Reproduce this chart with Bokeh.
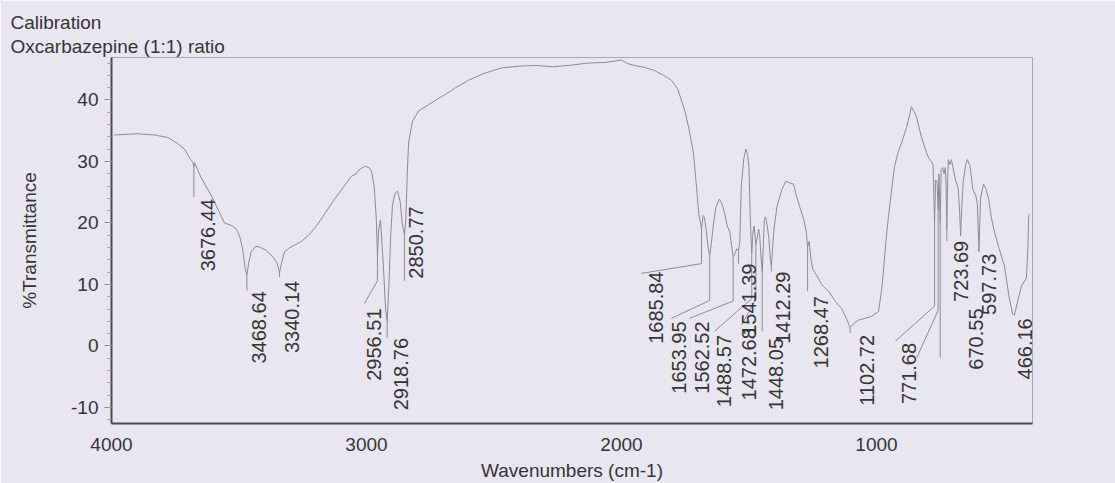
from bokeh.plotting import figure
from bokeh.models import Range1d, FixedTicker, Title, ColumnDataSource
from bokeh.core.properties import value
from bokeh.embed import file_html
from bokeh.resources import INLINE
import math

# ---- spectrum (wavenumber cm-1, %T) ----
wavenumber = [3990, 3900, 3830, 3780, 3740, 3714, 3690, 3680, 3677, 3674, 3650, 3608, 3580, 3557,
              3530, 3510, 3495, 3485, 3475, 3469, 3462, 3452, 3435, 3420, 3395, 3370, 3352, 3341,
              3333, 3322, 3300, 3255, 3220, 3188, 3125, 3059, 3040, 3030, 3008, 2990, 2980, 2970,
              2962, 2957, 2952, 2945, 2935, 2925, 2919, 2912, 2905, 2898, 2888, 2878, 2868, 2860,
              2851, 2846, 2840, 2835, 2820, 2796, 2757, 2720, 2694, 2650, 2600, 2540, 2471, 2400,
              2341, 2270, 2208, 2129, 2060, 2000, 1975, 1949, 1910, 1871, 1835, 1804, 1780, 1765,
              1750, 1737, 1718, 1706, 1697, 1690, 1686, 1680, 1675, 1668, 1660, 1654, 1648, 1640,
              1630, 1616, 1605, 1597, 1585, 1575, 1568, 1562, 1555, 1548, 1541, 1536, 1530, 1520,
              1512, 1505, 1500, 1495, 1489, 1484, 1480, 1476, 1473, 1468, 1462, 1458, 1452, 1448,
              1444, 1440, 1435, 1428, 1422, 1416, 1412, 1408, 1402, 1390, 1370, 1355, 1345, 1325,
              1314, 1300, 1285, 1275, 1270, 1264, 1258, 1250, 1235, 1215, 1188, 1160, 1137, 1118,
              1103, 1090, 1071, 1045, 1020, 992, 980, 973, 963, 953, 940, 929, 915, 902, 882, 870,
              863, 855, 843, 824, 804, 795, 784, 778, 775, 772, 768, 762, 758, 755, 750, 746, 740,
              735, 730, 727, 724, 721, 718, 712, 706, 700, 690, 679, 674, 670, 666, 660, 650, 643,
              633, 622, 610, 604, 598, 592, 580, 570, 560, 550, 537, 520, 498, 480, 466, 459, 445,
              431, 412, 406, 403, 400]
transmittance = [34.3, 34.5, 34.3, 33.9, 32.9, 32.0, 30.3, 29.8, 29.0, 29.8, 27.5, 24.4, 22.0, 20.0,
                 19.6, 19.0, 17.5, 15.5, 12.5, 11.5, 13.5, 15.3, 16.2, 16.1, 15.6, 14.6, 13.6, 12.0,
                 13.5, 15.3, 16.0, 17.0, 18.3, 20.0, 23.9, 27.6, 28.0, 28.6, 29.2, 29.0, 28.4, 26.0,
                 21.0, 14.5, 19.0, 20.5, 14.0, 6.0, 4.0, 10.0, 18.0, 23.0, 24.8, 25.2, 23.5, 20.0,
                 18.0, 20.5, 28.0, 33.0, 36.5, 38.2, 39.2, 40.2, 40.8, 42.0, 43.2, 44.3, 45.2, 45.5,
                 45.6, 45.4, 45.6, 46.0, 46.1, 46.5, 45.9, 45.6, 45.3, 44.8, 44.0, 43.2, 41.8, 40.0,
                 38.0, 35.6, 31.5, 26.0, 21.5, 20.0, 19.0, 21.2, 21.0, 19.0, 16.0, 14.7, 16.5, 19.5,
                 22.5, 23.9, 23.0, 21.8, 19.5, 18.5, 16.3, 14.5, 15.0, 15.8, 15.5, 17.0, 26.0, 30.5,
                 32.0, 31.0, 29.0, 21.0, 15.0, 18.5, 19.5, 18.0, 16.5, 17.5, 19.0, 18.0, 14.0, 12.0,
                 16.0, 20.5, 21.0, 19.5, 17.5, 14.0, 13.0, 15.5, 19.0, 22.7, 25.5, 26.8, 26.6, 26.3,
                 24.4, 22.5, 20.6, 18.5, 16.0, 17.0, 14.5, 12.5, 11.5, 10.0, 8.9, 7.2, 6.1, 4.5,
                 3.0, 3.6, 4.2, 4.5, 4.8, 5.6, 9.0, 12.0, 17.0, 21.0, 25.5, 29.2, 31.5, 33.0, 35.5, 37.5,
                 38.9, 38.3, 37.3, 34.0, 31.5, 30.5, 30.0, 29.5, 25.0, 20.0, 27.0, 26.6, 22.0, 28.0,
                 20.0, 28.7, 29.0, 28.0, 29.0, 26.0, 19.0, 27.0, 30.3, 29.5, 30.3, 29.0, 27.0, 25.5,
                 22.0, 17.9, 22.0, 26.6, 29.5, 30.3, 29.2, 25.5, 24.4, 23.0, 15.3, 24.0, 26.3, 25.5,
                 23.9, 21.0, 18.5, 16.0, 13.0, 8.0, 5.2, 5.0, 7.5, 9.8, 11.0, 16.0, 21.0, 21.5]

# ---- peak labels: text, label centre (cm-1), label top (%T) ----
peak_labels = ["3676.44", "3468.64", "3340.14", "2956.51", "2918.76", "2850.77", "1685.84",
               "1653.95", "1562.52", "1488.57", "1472.68", "1541.39", "1448.05", "1412.29",
               "1268.47", "1102.72", "771.68", "723.69", "670.55", "597.73", "466.16"]
label_x = [3620, 3420, 3294, 2969, 2863, 2804, 1863, 1776, 1686, 1596, 1498, 1498, 1392, 1365,
           1216, 1039, 874, 667, 608, 557, 418]
label_top = [23.9, 8.9, 10.6, 6.1, 1.3, 22.7, 12.1, 4.0, 4.0, 1.8, 2.9, 13.4, 1.3, 12.1,
             8.1, 1.8, 0.5, 17.1, 6.1, 15.0, 4.5]

# ---- leader lines from peaks to labels (cm-1, %T) ----
leader_x = [[3677, 3677], [3469, 3469], [3341, 3341], [2957, 2957, 3008], [2919, 2919],
            [2851, 2851], [1686, 1686, 1922], [1654, 1654, 1804], [1562, 1562, 1733],
            [1489, 1489, 1635], [1473, 1473, 1529], [1541, 1541], [1448, 1448], [1412, 1412],
            [1270, 1270], [1103, 1103], [772, 772, 925], [758, 758, 842], [750, 750], [724, 724]]
leader_y = [[29.0, 24.2], [11.5, 9.0], [12.0, 11.2], [14.5, 10.6, 6.9], [4.0, 1.3],
            [18.0, 10.6], [19.0, 13.4, 11.8], [14.7, 7.4, 4.5], [14.5, 7.3, 4.5],
            [15.0, 7.7, 2.4], [16.5, 7.7, 3.4], [15.5, 13.4], [12.0, 2.4], [13.0, 12.1],
            [16.0, 8.9], [3.0, 2.1], [20.0, 6.5, 0.8], [22.0, 5.8, -1.9], [20.0, -1.9], [19.0, 17.1]]

x_ticks = [4000, 3000, 2000, 1000]
y_ticks = [-10, 0, 10, 20, 30, 40]

PAPER = "#e8e6ef"
INK = "#353535"
TRACE = "#8d8b95"
FONT = "Liberation Sans"

p = figure(width=1115, height=483, output_backend="svg", toolbar_location=None,
           x_range=Range1d(4000, 388), y_range=Range1d(-12.6, 46.9),
           min_border_left=111, min_border_right=83, min_border_top=57, min_border_bottom=57)
p.background_fill_color = PAPER
p.border_fill_color = PAPER
p.outline_line_color = "#aaa6c0"
p.outline_line_width = 1
p.grid.visible = False

p.xaxis.ticker = FixedTicker(ticks=x_ticks)
p.yaxis.ticker = FixedTicker(ticks=y_ticks, minor_ticks=[v for v in range(-12, 47, 2)])
p.yaxis.major_label_overrides = {v: str(v) for v in y_ticks}
for ax in (p.xaxis[0], p.yaxis[0]):
    ax.axis_line_color = "#4a4a55"
    ax.axis_line_width = 2
    ax.major_label_text_font = FONT
    ax.major_label_text_font_size = "19px"
    ax.major_label_text_color = INK
    ax.axis_label_text_font = FONT
    ax.axis_label_text_font_size = "19px"
    ax.axis_label_text_font_style = "normal"
    ax.axis_label_text_color = INK
p.xaxis.major_tick_line_color = None
p.xaxis.minor_tick_line_color = None
p.xaxis.major_label_standoff = 8
p.xaxis.axis_label = "Wavenumbers (cm-1)"
p.xaxis.axis_label_standoff = 6
p.yaxis.major_tick_out = 7
p.yaxis.major_tick_in = 0
p.yaxis.minor_tick_out = 4
p.yaxis.minor_tick_in = 0
p.yaxis.major_tick_line_color = "#6f8fb0"
p.yaxis.minor_tick_line_color = "#b08a9a"
p.yaxis.major_label_standoff = 6
p.yaxis.axis_label = "%Transmittance"
p.yaxis.axis_label_standoff = 28

# header texts
p.title.text = "Calibration"
p.title.align = "left"
p.title.offset = -101
p.title.standoff = 0
p.title.text_font = FONT
p.title.text_font_size = "19px"
p.title.text_font_style = "normal"
p.title.text_color = INK
p.add_layout(Title(text="Oxcarbazepine (1:1) ratio", align="left", offset=-101, standoff=2,
                   text_font=FONT, text_font_size="19px", text_font_style="normal",
                   text_color=INK), "above")

# spectrum
p.line(wavenumber, transmittance, line_color=TRACE, line_width=1)

# leaders
p.multi_line(xs=leader_x, ys=leader_y, line_color=TRACE, line_width=1)

# peak labels
src = ColumnDataSource(dict(x=label_x, y=label_top, t=peak_labels))
p.text(x="x", y="y", text="t", source=src, angle=math.pi / 2, text_align="right",
       text_baseline="middle", text_font=value(FONT), text_font_size="20px", text_color=INK)

open("out.html", "w").write(file_html(p, INLINE))
